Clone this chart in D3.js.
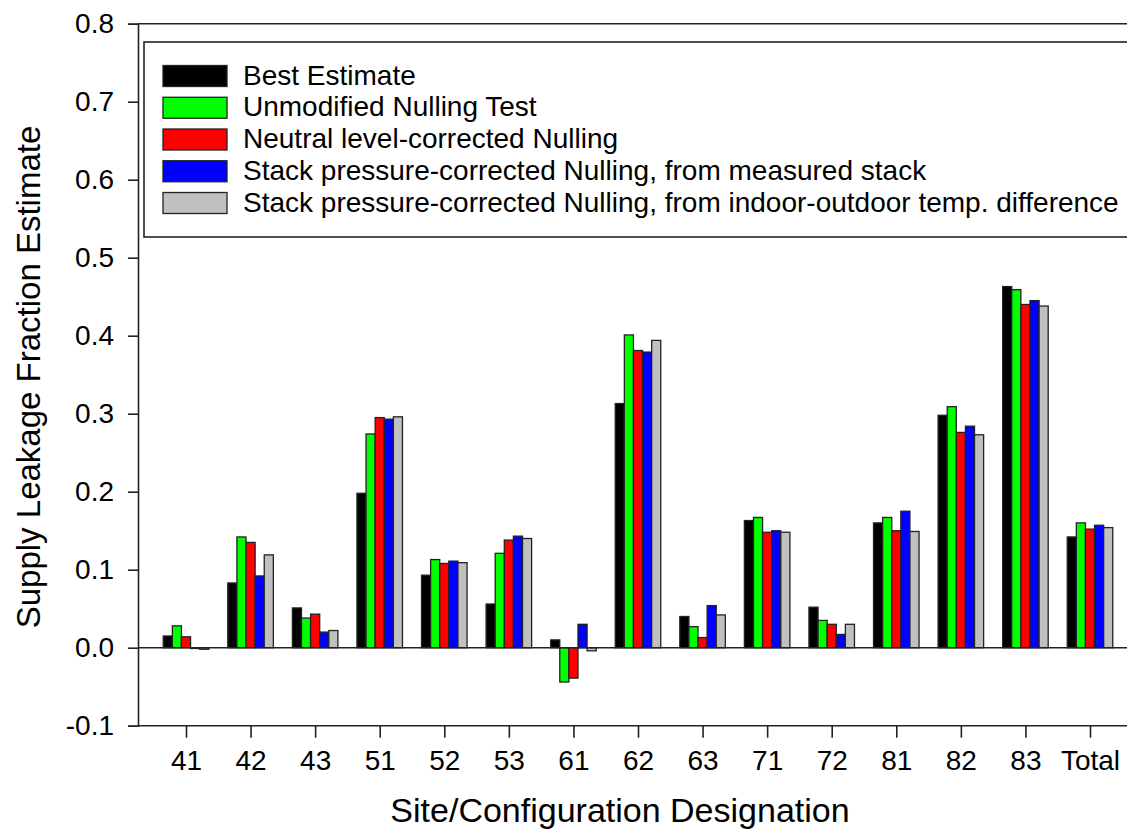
<!DOCTYPE html>
<html><head><meta charset="utf-8">
<script src="https://cdn.jsdelivr.net/npm/d3@7"></script>
<style>body{margin:0;background:#fff}svg{display:block}text{font-family:"Liberation Sans",Arial,sans-serif;fill:#000}</style>
</head><body>
<svg id="c" width="1127" height="832"></svg>
<script>
const categories = ["41","42","43","51","52","53","61","62","63","71","72","81","82","83","Total"];
const seriesNames = ["Best Estimate","Unmodified Nulling Test","Neutral level-corrected Nulling","Stack pressure-corrected Nulling, from measured stack","Stack pressure-corrected Nulling, from indoor-outdoor temp. difference"];
const seriesColors = ["#000000","#00ff00","#ff0000","#0000ff","#c0c0c0"];
const bestEstimate = [0.015,0.083,0.051,0.198,0.093,0.056,0.010,0.313,0.040,0.163,0.052,0.160,0.298,0.463,0.142];
const unmodified   = [0.028,0.142,0.038,0.274,0.113,0.121,-0.044,0.401,0.027,0.167,0.035,0.167,0.309,0.459,0.160];
const neutralLevel = [0.014,0.135,0.043,0.295,0.108,0.138,-0.039,0.381,0.013,0.148,0.030,0.150,0.276,0.440,0.152];
const stackMeasured= [-0.001,0.092,0.020,0.293,0.111,0.143,0.030,0.379,0.054,0.150,0.017,0.175,0.284,0.445,0.157];
const stackTemp    = [-0.002,0.119,0.022,0.296,0.109,0.140,-0.004,0.394,0.042,0.148,0.030,0.149,0.273,0.438,0.154];
const yTicks = [-0.1,0.0,0.1,0.2,0.3,0.4,0.5,0.6,0.7,0.8];
const allSeries = [bestEstimate,unmodified,neutralLevel,stackMeasured,stackTemp];

const svg = d3.select("#c");
const x = d3.scalePoint().domain(categories).range([186,1090]);
const y = d3.scaleLinear().domain([-0.1,0.8]).range([725.7,23.7]);
const gw = x.step()*0.705;
const inner = d3.scaleBand().domain(d3.range(5)).range([-gw/2,gw/2]);
const axisColor = "#222";
const fontFam = "Liberation Sans, Arial, sans-serif";

// bars
allSeries.forEach((vals,si)=>{
  svg.append("g").selectAll("rect").data(vals).join("rect")
    .attr("x",(d,i)=>x(categories[i])+inner(si))
    .attr("width",inner.bandwidth())
    .attr("y",d=>Math.min(y(d),y(0)))
    .attr("height",d=>Math.abs(y(d)-y(0)))
    .attr("fill",seriesColors[si])
    .attr("stroke","#222").attr("stroke-width",1.3);
});

// zero line
svg.append("line").attr("x1",138).attr("x2",1127).attr("y1",y(0)).attr("y2",y(0))
  .attr("stroke",axisColor).attr("stroke-width",1.6);
// top frame line
svg.append("line").attr("x1",138).attr("x2",1127).attr("y1",y(0.8)).attr("y2",y(0.8))
  .attr("stroke",axisColor).attr("stroke-width",1.6);

// y axis
const yAxis = svg.append("g").attr("transform","translate(138,0)")
  .call(d3.axisLeft(y).tickValues(yTicks).tickSize(10).tickPadding(14).tickFormat(d=>d3.format(".1f")(d).replace("−","-")));
yAxis.select(".domain").attr("stroke",axisColor).attr("stroke-width",1.6);
yAxis.selectAll(".tick line").attr("stroke",axisColor).attr("stroke-width",1.6);
yAxis.selectAll("text").attr("font-size",28).attr("fill","#000").attr("font-family",fontFam);

// x axis
const xAxis = svg.append("g").attr("transform",`translate(0,${y(-0.1)})`)
  .call(d3.axisBottom(x).tickSize(12).tickPadding(12).tickSizeOuter(0));
xAxis.select(".domain").attr("d",`M138,0H1127`).attr("stroke",axisColor).attr("stroke-width",1.6);
xAxis.selectAll(".tick line").attr("stroke",axisColor).attr("stroke-width",1.6);
xAxis.selectAll("text").attr("font-size",28).attr("fill","#000").attr("font-family",fontFam);

// axis titles
svg.append("text").attr("x",620).attr("y",822).attr("text-anchor","middle").attr("font-size",34)
  .text("Site/Configuration Designation");
svg.append("text").attr("transform","translate(40,377) rotate(-90)").attr("text-anchor","middle").attr("font-size",33)
  .text("Supply Leakage Fraction Estimate");

// legend
const lg = svg.append("g");
lg.append("rect").attr("x",144).attr("y",42).attr("width",1000).attr("height",195)
  .attr("fill","#fff").attr("stroke",axisColor).attr("stroke-width",1.6);
seriesNames.forEach((name,i)=>{
  const cy = 76 + i*31.75;
  lg.append("rect").attr("x",163).attr("y",cy-10.5).attr("width",64).attr("height",21)
    .attr("fill",seriesColors[i]).attr("stroke","#222").attr("stroke-width",1.3);
  lg.append("text").attr("x",243).attr("y",cy+8.5).attr("font-size",28).text(name);
});
</script>
</body></html>
